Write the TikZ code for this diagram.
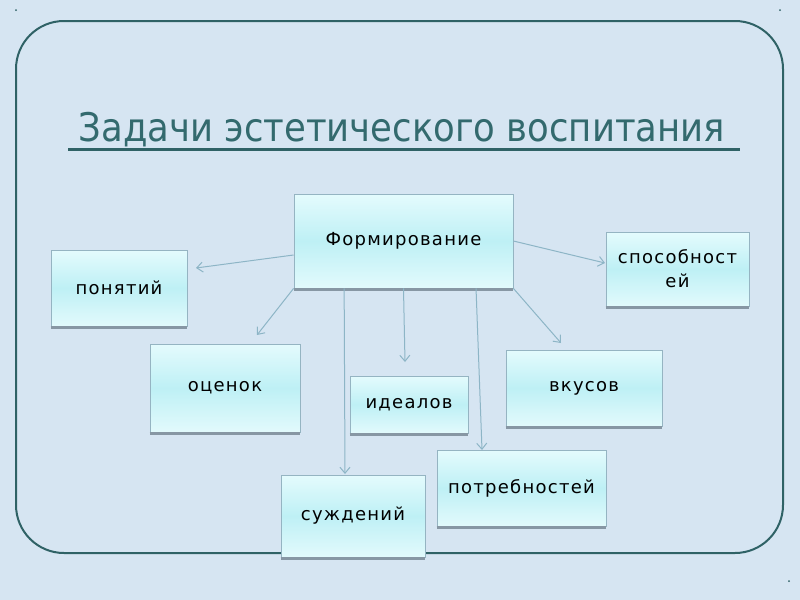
\documentclass[tikz,border=0pt]{standalone}
\usepackage{fontspec}
\setmainfont{DejaVu Sans}
\newfontfamily\titlefont{DejaVu Sans Condensed}
\newfontfamily\boxfont[LetterSpace=7]{DejaVu Sans}
\usetikzlibrary{arrows.meta,calc}
\definecolor{bgc}{HTML}{D6E5F2}
\definecolor{framec}{HTML}{2F6266}
\definecolor{titlec}{HTML}{336A6E}
\definecolor{boxtop}{HTML}{E4FBFD}
\definecolor{boxmid}{HTML}{BEF0F5}
\definecolor{boxbot}{HTML}{E2FAFC}
\definecolor{boxline}{HTML}{95B4C2}
\definecolor{shadowc}{HTML}{8797A4}
\definecolor{arrc}{HTML}{8DB5C6}
\tikzset{
  tbox/.style={draw=boxline, line width=0.4pt, top color=boxtop, bottom color=boxbot, middle color=boxmid,
     inner sep=2pt, align=center, font=\boxfont\fontsize{9}{12}\selectfont, text=black},
  conn/.style={draw=arrc, line width=0.5pt, -{Straight Barb[length=3pt,width=5pt]}},
}
\newcommand{\boxshadow}[1]{\draw[shadowc, line width=1.3pt] ([yshift=-0.65pt]#1.south west) -- ([yshift=-0.65pt]#1.south east);}
\begin{document}
\begin{tikzpicture}[x=0.5pt,y=-0.5pt]
\fill[bgc] (0,0) rectangle (800,600);
\useasboundingbox (0,0) rectangle (800,600);
% frame
\draw[framec, line width=1pt, rounded corners=24pt] (16,21) rectangle (783,553);
% dots
\fill[framec] (16,10) circle (0.5pt);
\fill[framec] (780,10) circle (0.5pt);
\fill[framec] (789,581) circle (0.5pt);
% title
\node[text=titlec, font=\titlefont\fontsize{19.7}{24}\selectfont, anchor=base] (title) at (402,141) {Задачи эстетического воспитания};
\draw[framec, line width=1.5pt] (68,149) -- (740,149);
% boxes
\node[tbox, minimum width=109.5pt, minimum height=47pt] (f) at (403.5,241) {Формирование};
\node[tbox, minimum width=68pt, minimum height=38pt] (p) at (119,288) {понятий};
\node[tbox, minimum width=71.5pt, minimum height=37pt, text width=66pt] (s) at (677.5,269) {способност\\ей};
\node[tbox, minimum width=75pt, minimum height=44pt] (o) at (225,388) {оценок};
\node[tbox, minimum width=59pt, minimum height=28.5pt] (i) at (409,404.5) {идеалов};
\node[tbox, minimum width=78pt, minimum height=38pt] (v) at (584,388) {вкусов};
\node[tbox, minimum width=72pt, minimum height=41pt] (sd) at (353,516) {суждений};
\node[tbox, minimum width=84.5pt, minimum height=38pt] (pt) at (521.5,488) {потребностей};
\foreach \n in {f,p,s,o,i,v,sd,pt} {\boxshadow{\n}}
% connector end points
\coordinate (ep) at (196,268);
\coordinate (eo) at (257,335);
\coordinate (esd) at (345,474);
\coordinate (ei) at (405,362);
\coordinate (ept) at (482,450);
\coordinate (ev) at (561,343);
\coordinate (es) at (605,263);
% connectors
\draw[conn] ([yshift=-7pt]f.west) -- (ep);
\draw[conn] (f.south west) -- (eo);
\draw[conn] ($(f.south west)!0.23!(f.south east)$) -- (esd);
\draw[conn] ($(f.south west)!0.5!(f.south east)$) -- (ei);
\draw[conn] ($(f.south west)!0.83!(f.south east)$) -- (ept);
\draw[conn] (f.south east) -- (ev);
\draw[conn] (f.east) -- (es);
\end{tikzpicture}
\end{document}
